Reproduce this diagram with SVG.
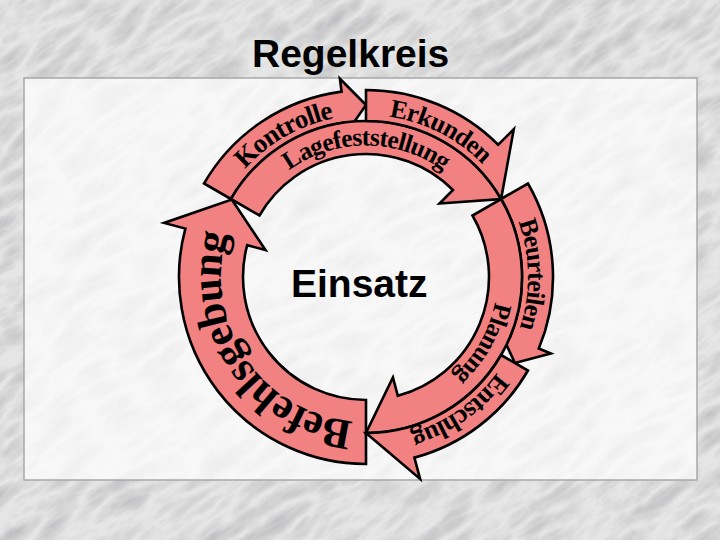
<svg xmlns="http://www.w3.org/2000/svg" width="720" height="540" viewBox="0 0 720 540">
<defs>
<filter id="marble" x="-300" y="-300" width="1400" height="1400" filterUnits="userSpaceOnUse">
<feTurbulence type="turbulence" baseFrequency="0.018 0.05" numOctaves="5" seed="11"/>
<feColorMatrix type="matrix" values="0 0 0 0 0.38  0 0 0 0 0.38  0 0 0 0 0.40  0.85 0 0 0 -0.12"/>
</filter>
<style>
.arrow{fill:#f28282;stroke:#000;stroke-width:2.6;stroke-linejoin:miter}
.lbl{font-family:"Liberation Serif","Times New Roman",serif;font-weight:bold;fill:#000;letter-spacing:-0.8px}
.ttl{font-family:"Liberation Sans",Arial,sans-serif;font-weight:bold;fill:#000}
</style>
<path id="pKon" d="M213.77,221.59 A162,162 0 0 1 394.13,117.46"/>
<path id="pErk" d="M329.56,119.15 A162,162 0 0 1 515.12,213.70"/>
<path id="pLag" d="M265.26,192.47 A131.5,131.5 0 0 1 466.74,192.47"/>
<path id="pBeu" d="M488.26,170.72 A162,162 0 0 1 491.90,378.95"/>
<path id="pPla" d="M495.50,254.16 A131.5,131.5 0 0 1 413.13,399.77"/>
<path id="pEnt" d="M522.48,318.93 A162,162 0 0 1 351.88,438.38"/>
<path id="pBef" d="M376.12,421.65 A145,145 0 0 1 235.68,213.44"/>
</defs>
<rect x="0" y="0" width="720" height="540" fill="#e6e6e6"/>
<rect x="-300" y="-300" width="1400" height="1400" fill="#fff" filter="url(#marble)" transform="rotate(-35 360 270)"/>
<rect x="24" y="78" width="673" height="402" fill="#ffffff" fill-opacity="0.72" stroke="#a8a8a8" stroke-width="1.5"/>
<text class="ttl" x="252" y="67" font-size="39">Regelkreis</text>
<g id="befehlsgebung">
<path class="arrow" d="M366,464 A187,187 0 0 1 185.37,228.60 L164.12,222.91 L231.77,199.5 L265.54,250.08 L247.19,245.17 A123,123 0 0 0 366,400 Z"/>
<text class="lbl" font-size="43"><textPath href="#pBef" startOffset="50%" text-anchor="middle">Befehlsgebung</textPath></text>
</g>
<g id="kontrolle">
<path class="arrow" d="M230.90,199 L204.05,183.5 A187,187 0 0 1 341.59,91.60 L339.89,78.71 L366,105 L346.94,132.25 L345.64,122.34 A156,156 0 0 0 230.90,199 Z"/>
<text class="lbl" font-size="27"><textPath href="#pKon" startOffset="50%" text-anchor="middle">Kontrolle</textPath></text>
</g>
<g id="lagefeststellung">
<path class="arrow" d="M230.90,199 A156,156 0 0 1 501.10,199 L439.54,203.46 L452.97,190.03 A123,123 0 0 0 259.48,215.5 Z"/>
<text class="lbl" font-size="25.5"><textPath href="#pLag" startOffset="50%" text-anchor="middle">Lagefeststellung</textPath></text>
</g>
<g id="erkunden">
<path class="arrow" d="M366,121 L366,90 A187,187 0 0 1 498.23,144.77 L513.79,129.21 L501.10,199 A156,156 0 0 0 366,121 Z"/>
<text class="lbl" font-size="26"><textPath href="#pErk" startOffset="50%" text-anchor="middle">Erkunden</textPath></text>
</g>
<g id="beurteilen">
<path class="arrow" d="M501.10,199 L527.95,183.5 A187,187 0 0 1 538.77,348.56 L550.78,353.54 L514.96,363 L500.89,332.87 L510.13,336.70 A156,156 0 0 0 501.10,199 Z"/>
<text class="lbl" font-size="26"><textPath href="#pBeu" startOffset="50%" text-anchor="middle">Beurteilen</textPath></text>
</g>
<g id="planung">
<path class="arrow" d="M501.10,199 A156,156 0 0 1 366,433 L392.92,377.46 L397.83,395.81 A123,123 0 0 0 472.52,215.5 Z"/>
<text class="lbl" font-size="25.5"><textPath href="#pPla" startOffset="50%" text-anchor="middle">Planung</textPath></text>
</g>
<g id="entschlug">
<path class="arrow" d="M501.10,355 L527.95,370.5 A187,187 0 0 1 414.40,457.63 L420.09,478.88 L366,433 A156,156 0 0 0 501.10,355 Z"/>
<text class="lbl" font-size="26.5"><textPath href="#pEnt" startOffset="50%" text-anchor="middle">Entschlug</textPath></text>
</g>
<g id="einsatz">
<text class="ttl" x="291" y="297" font-size="39">Einsatz</text>
</g>
</svg>
